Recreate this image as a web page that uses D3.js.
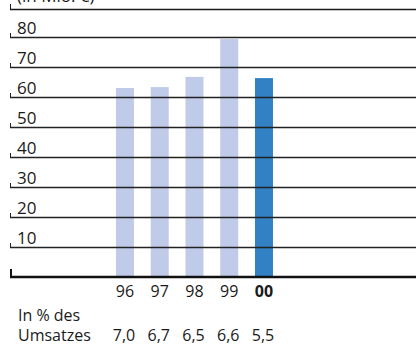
<!DOCTYPE html>
<html>
<head>
<meta charset="utf-8">
<script src="https://cdn.jsdelivr.net/npm/d3@7/dist/d3.min.js"></script>
<style>
  html, body { margin: 0; padding: 0; background: #fff; }
  svg { display: block; }
  text { font-family: "Open Sans", "Noto Sans", sans-serif; fill: #1a1a1a; }
</style>
</head>
<body>
<svg id="chart" width="416" height="345"></svg>
<script>
// Years shown on the x axis
const years = ["96", "97", "98", "99", "00"];
// Amounts in Mio. €
const values = [63.0, 63.3, 66.7, 79.3, 66.3];
// Share of sales in percent, printed below each year
const shareLabels = ["7,0", "6,7", "6,5", "6,6", "5,5"];
// Gridline values with labels
const gridTicks = [10, 20, 30, 40, 50, 60, 70, 80];
const unitLabel = "(in Mio. €)";
const rowLabel1 = "In % des";
const rowLabel2 = "Umsatzes";

const svg = d3.select("#chart");
const W = 416;
const left = 10;

const y = d3.scaleLinear().domain([0, 90]).range([277, 7]);
const x = d3.scaleBand()
  .domain(years)
  .range([107.6, 107.6 + 5 * 34.75])
  .paddingInner(1 - 18 / 34.75)
  .paddingOuter((1 - 18 / 34.75) / 2);

// Bars: earlier years light, current year highlighted
svg.append("g").selectAll("rect")
  .data(years)
  .join("rect")
  .attr("x", d => x(d))
  .attr("width", x.bandwidth())
  .attr("y", (d, i) => y(values[i]))
  .attr("height", (d, i) => y(0) - y(values[i]))
  .attr("fill", (d, i) => i === years.length - 1 ? "#3181c4" : "#bfcbe8");

// Gridlines with small left ticks, drawn on top of the bars
const grid = svg.append("g");
grid.selectAll("line.g")
  .data(gridTicks)
  .join("line")
  .attr("class", "g")
  .attr("x1", left).attr("x2", W)
  .attr("y1", d => Math.round(y(d)) + 0.5)
  .attr("y2", d => Math.round(y(d)) + 0.5)
  .attr("stroke", "#222").attr("stroke-width", 1.3);
grid.selectAll("line.t")
  .data(gridTicks)
  .join("line")
  .attr("class", "t")
  .attr("x1", left + 0.5).attr("x2", left + 0.5)
  .attr("y1", d => Math.round(y(d)) - 4)
  .attr("y2", d => Math.round(y(d)) + 1)
  .attr("stroke", "#222").attr("stroke-width", 1);
grid.selectAll("text")
  .data(gridTicks)
  .join("text")
  .attr("x", 17)
  .attr("y", d => Math.round(y(d)) - 3)
  .attr("font-size", 17)
  .text(d => d);

// Unit title with its rule
svg.append("line")
  .attr("x1", left).attr("x2", W)
  .attr("y1", 9.5).attr("y2", 9.5)
  .attr("stroke", "#1a1a1a").attr("stroke-width", 1.3);
svg.append("line")
  .attr("x1", left + 0.5).attr("x2", left + 0.5)
  .attr("y1", 4).attr("y2", 10)
  .attr("stroke", "#1a1a1a").attr("stroke-width", 1);
svg.append("text")
  .attr("x", 17).attr("y", 2)
  .attr("font-size", 17)
  .text(unitLabel);

// Baseline
svg.append("line")
  .attr("x1", left).attr("x2", W)
  .attr("y1", y(0)).attr("y2", y(0))
  .attr("stroke", "#111").attr("stroke-width", 2.4);
svg.append("line")
  .attr("x1", left + 1).attr("x2", left + 1)
  .attr("y1", y(0) - 8).attr("y2", y(0) + 1)
  .attr("stroke", "#111").attr("stroke-width", 2);

// Year labels
svg.append("g").selectAll("text")
  .data(years)
  .join("text")
  .attr("x", d => x(d) + x.bandwidth() / 2)
  .attr("y", 297)
  .attr("text-anchor", "middle")
  .attr("font-size", 16)
  .attr("font-weight", (d, i) => i === years.length - 1 ? 700 : 400)
  .text(d => d);

// Share of sales row
svg.append("text").attr("x", 18).attr("y", 321).attr("font-size", 16).text(rowLabel1);
svg.append("text").attr("x", 18).attr("y", 341).attr("font-size", 16).text(rowLabel2);
svg.append("g").selectAll("text")
  .data(years)
  .join("text")
  .attr("x", d => x(d) + x.bandwidth() / 2 - 1)
  .attr("y", 341)
  .attr("text-anchor", "middle")
  .attr("font-size", 16)
  .text((d, i) => shareLabels[i]);
</script>
</body>
</html>
